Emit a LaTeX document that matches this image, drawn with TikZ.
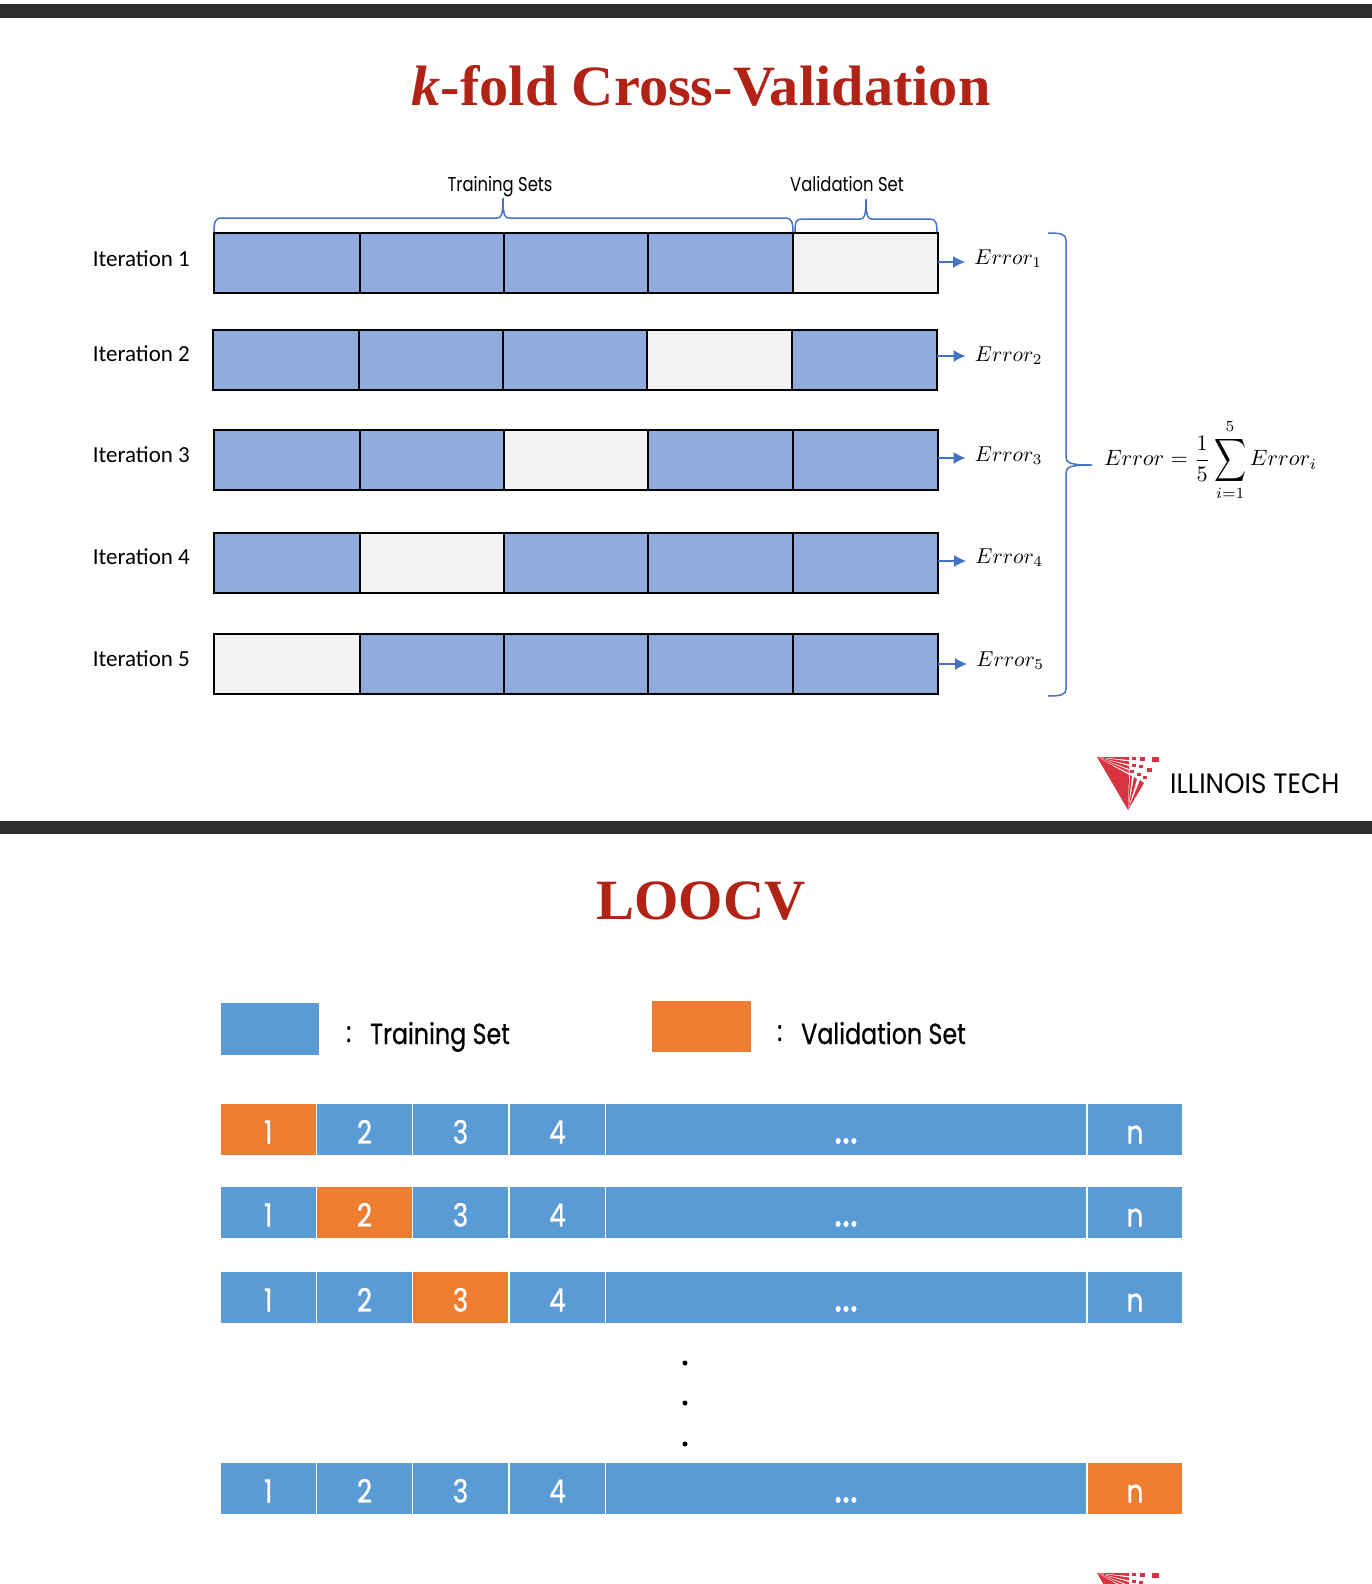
\documentclass[tikz,border=0pt]{standalone}
\usepackage{fontspec}
\setmainfont{Liberation Serif}
\newfontfamily\geofont[FakeStretch=0.82]{Poppins}
\newfontfamily\geobold[FakeStretch=0.82,FakeBold=0.7]{Poppins}
\newfontfamily\calfont{Carlito}
\usetikzlibrary{arrows.meta}
\definecolor{titlered}{HTML}{B22317}
\definecolor{barblack}{HTML}{2D2D2D}
\definecolor{foldblue}{HTML}{8FAADC}
\definecolor{foldgrey}{HTML}{F2F2F2}
\definecolor{bracketblue}{HTML}{4472C4}
\definecolor{trainblue}{HTML}{5B9BD5}
\definecolor{valorange}{HTML}{ED7D31}
\definecolor{logored}{HTML}{D9333F}
\newcommand{\looellipsis}{\fontsize{46}{46}\selectfont...}
\newcommand{\tallsum}{\mathop{\vcenter{\hbox{\scalebox{1}[1.35]{$\displaystyle\sum$}}}}}
\tikzset{
  titletext/.style={text=titlered, font=\bfseries\fontsize{57}{60}\selectfont, inner sep=0},
  toplabel/.style={font=\geofont\fontsize{20}{23}\selectfont, inner sep=0, anchor=base},
  iterlabel/.style={font=\calfont\fontsize{23}{26}\selectfont, inner sep=0},
  legendtext/.style={font=\geobold\fontsize{29}{34}\selectfont, inner sep=0, anchor=base west},
  foldcell/.style={draw=black, line width=2.2pt, inner sep=0, outer sep=0, anchor=north west},
  traincell/.style={foldcell, fill=foldblue},
  valcell/.style={foldcell, fill=foldgrey},
  errnode/.style={scale=2.15, inner sep=0, anchor=base west},
  errarrow/.style={bracketblue, line width=1.1pt, -{Latex[length=12pt,width=12pt]}, shorten >=9pt},
  bracket/.style={bracketblue, line width=1.5pt},
  loocell/.style={inner sep=0, outer sep=0, anchor=north west, text=white,
    font=\geobold\fontsize{32}{34}\selectfont, text height=28pt, text depth=0pt},
  loodot/.style={circle, fill=black, inner sep=0, minimum size=5pt},
  bar/.style={fill=barblack},
  iitlogo/.pic={
    \fill[logored] (0,0) -- (32,18) -- (31,53) -- cycle;
    \foreach \ya/\yb in {0/3, 4.5/7.5, 9/12, 13.5/16}
      \fill[logored] (0,0) -- (32,\ya) -- (32,\yb) -- cycle;
    \foreach \xa/\ya/\xb/\yb in {33/18/35/19, 37/20/40/22, 43/23/47/26}
      \fill[logored] (31,53) -- (\xa,\ya) -- (\xb,\yb) -- cycle;
    \foreach \sx/\sy/\ss in {37/2/4,45/2/5,58/3/7,37/9/4,44/10/4,52/13/5,35/15/4,42/18/4,48/21/4}
      \fill[logored] (\sx-\ss/2,\sy-\ss/2) rectangle ++(\ss,\ss*.8);
  }
}
\begin{document}
\begin{tikzpicture}[x=1pt,y=-1pt]
\useasboundingbox (0,0) rectangle (1372,1584);
\fill[bar] (0,4) rectangle (1372,18);
\fill[bar] (0,821) rectangle (1372,834);

% k-fold part
\node[titletext, xscale=1.024] (foldtitle) at (701,86) {\textit{k}-fold Cross-Validation};
\node[toplabel] (trainlabel) at (500,191) {Training Sets};
\node[toplabel] (vallabel) at (847,191) {Validation Set};
\foreach \r/\y/\v/\dx/\lby/\ex/\ey/\ay in {
    1/233/5/0/259/974/264/262, 2/330/4/-1/354/974.5/361/356, 3/430/3/0/455/974.5/461/458,
    4/533/2/0/557/975/563/561, 5/634/1/0/659/976/666/664} {
  \node[iterlabel, anchor=east] (iter\r) at (190,\lby) {Iteration \r};
  \foreach \c/\xa/\xb in {1/214/360, 2/360/504, 3/504/648, 4/648/793, 5/793/938} {
    \ifnum\c=\v\def\cellstyle{valcell}\else\def\cellstyle{traincell}\fi
    \node[\cellstyle, minimum width={(\xb-\xa)*1pt}, minimum height=60pt]
      (c\r-\c) at (\xa+\dx,\y) {};
  }
  \node[errnode] (e\r) at (\ex,\ey) {$Error_{\r}$};
  \draw[errarrow] (c\r-5.east |- 0,\ay) -- (e\r.west |- 0,\ay);
}
\draw[bracket] (214,232) .. controls (214,222) and (215,218) .. (222,218) -- (497,218)
  .. controls (501,218) and (503,216) .. (503,198)
  .. controls (503,216) and (505,218) .. (509,218) -- (786,218)
  .. controls (791,218) and (793,222) .. (793,232);
\draw[bracket] (795,232) .. controls (795,222) and (796,219) .. (802,219) -- (860,219)
  .. controls (864,219) and (866,217) .. (866,199)
  .. controls (866,217) and (868,219) .. (872,219) -- (930,219)
  .. controls (935,219) and (937,222) .. (937,232);
\draw[bracket] (1048,233) .. controls (1060,233) and (1066,234) .. (1066,240) -- (1066,457)
  .. controls (1066,463) and (1070,465) .. (1092,465)
  .. controls (1070,465) and (1066,467) .. (1066,473) -- (1066,689)
  .. controls (1066,695) and (1060,696) .. (1048,696);
\node[scale=2.22, inner sep=0] (errsum) at (1210.5,460)
  {$\displaystyle Error=\frac{1}{5}\tallsum_{i=1}^{5}Error_i$};
\node[legendtext, font=\geofont\fontsize{28}{32}\selectfont, xscale=1.14] (iit1) at (1170,793) {ILLINOIS TECH};
\pic at (1097,757) {iitlogo};

% LOOCV part
\node[titletext] (lootitle) at (701,901) {LOOCV};
\fill[trainblue] (220.5,1003) rectangle (319,1055);
\fill[valorange] (652,1001) rectangle (751,1052);
\node[legendtext] (trainset) at (370,1044) {Training Set};
\node[legendtext] (valset) at (801,1044) {Validation Set};
\node[legendtext] (traincolon) at (346,1042) {:};
\node[legendtext] (valcolon) at (777,1041) {:};
\foreach \r/\y/\v in {1/1104/1, 2/1187/2, 3/1272/3, 4/1463/6} {
  \foreach \c/\xa/\xb/\lbl in {1/220.5/316/1, 2/317/412/2, 3/413/508/3, 4/510/605/4,
      5/606/1086/\looellipsis, 6/1088/1182/n} {
    \ifnum\c=\v\def\cellfill{valorange}\else\def\cellfill{trainblue}\fi
    \node[loocell, fill=\cellfill, minimum width={(\xb-\xa)*1pt}, minimum height=51pt]
      (loo\r-\c) at (\xa,\y) {\lbl};
  }
}
\node[loodot] (dot1) at (685,1363) {};
\node[loodot] (dot2) at (685,1403) {};
\node[loodot] (dot3) at (685,1444) {};
\begin{scope}
  \clip (0,0) rectangle (1372,1584);
  \pic at (1097,1573) {iitlogo};
\end{scope}
\end{tikzpicture}
\end{document}
